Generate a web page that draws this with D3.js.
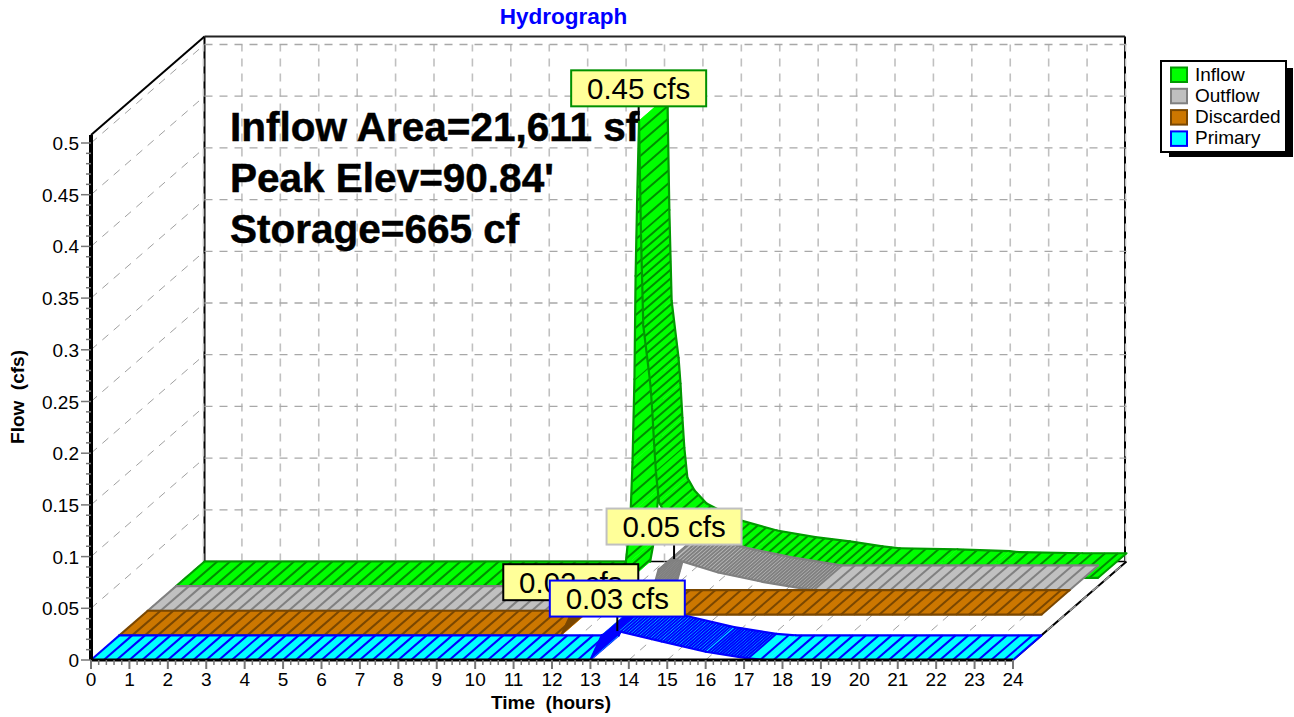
<!DOCTYPE html>
<html><head><meta charset="utf-8">
<script src="https://cdn.jsdelivr.net/npm/d3@7"></script>
<style>html,body{margin:0;padding:0;background:#fff}svg{display:block}text{font-family:"Liberation Sans",Arial,sans-serif;fill:#000}</style>
</head><body><svg id="c" width="1294" height="717"></svg>
<script>
const seriesNames = ["Inflow","Outflow","Discarded","Primary"];
const fills = ["#00ff00","#c0c0c0","#cc7700","#00ffff"];
const strokes = ["#009a00","#808080","#7a4700","#0000ff"];
const hatches = ["#008c00","#808080","#7a4700","#0000ff"];
const labelBorders = ["#009000","#c0c0c0","#000000","#0000ff"];
const depthRow = [3,2,1,0];

const inflowT = [0,11.6,11.7,11.83,11.88,11.93,11.96,12,12.05,12.1,12.16,12.34,12.39,12.44,12.49,12.57,12.75,13.07,13.6,13.93,14.9,15.9,16.8,17.65,18.1,19.6,20.95,21.2,22.85,24];
const inflowV = [0,0,0.02,0.07,0.12,0.2,0.3,0.373,0.45,0.34,0.252,0.197,0.172,0.139,0.11,0.081,0.069,0.056,0.046,0.04,0.03,0.0235,0.0195,0.0147,0.0128,0.0118,0.01,0.009,0.008,0.008];
const outflowT = [0,13,13.3,13.7,14.85,16,17.3,24];
const outflowV = [0,0,0.04,0.05,0.037,0.028,0.02,0.02];
const discardedT = [0,11.5,11.75,24];
const discardedV = [0,0,0.02,0.02];
const primaryT = [0,13,13.3,13.7,14.85,16,17.1,17.6,24];
const primaryV = [0,0,0.024,0.028,0.018,0.008,0.0015,0,0];
const seriesT = [inflowT,outflowT,discardedT,primaryT];
const seriesV = [inflowV,outflowV,discardedV,primaryV];
const denseFrom = [12.1,13,11.5,13];
const denseTo = [18,17.3,11.75,17.1];
const densePitch = [8.5,3.2,3,2.9];

const peakLabels = ["0.45 cfs","0.05 cfs","0.02 cfs","0.03 cfs"];
const peakT = [12.04,13.7,11.75,13.7];
const peakV = [0.45,0.05,0.02,0.028];
const labelOrder = [0,1,2,3];
const statLines = ["Inflow Area=21,611 sf","Peak Elev=90.84'","Storage=665 cf"];
const hourTicks = d3.range(0,25);
const flowTicks = d3.range(0,11).map(d=>d*0.05);
const flowTickText = ["0","0.05","0.1","0.15","0.2","0.25","0.3","0.35","0.4","0.45","0.5"];

const x = d3.scaleLinear().domain([0,24]).range([91,1013]);
const y = d3.scaleLinear().domain([0,0.5]).range([660,143]);
const depthX = d3.scaleLinear().domain([0,4]).range([0,113.5]);
const depthY = d3.scaleLinear().domain([0,4]).range([0,-98.5]);
const P = (t,v,z)=>[x(t)+depthX(z), y(v)+depthY(z)];
const svg = d3.select("#c");
const line = (g,a,b,col,w,dash)=>g.append("line").attr("x1",a[0]).attr("y1",a[1]).attr("x2",b[0]).attr("y2",b[1])
  .attr("stroke",col).attr("stroke-width",w).attr("stroke-dasharray",dash||null);

// grid
const grid = svg.append("g");
const topV = y.invert(135);
const gridVCol="#c0c0c0", gridHCol="#a8a8a8", gridDCol="#a0a0a0";
line(grid,P(0,0,4),P(0,topV,4),"#000",2);
line(grid,[204,P(24,0,4)[1]],[1125,P(24,0,4)[1]],"#000",1.5);
line(grid,[1125,36.5],[1125,562],"#000",2);
hourTicks.forEach(h=>{
  const a=P(h,0,4), b=P(h,0.5,4);
  line(grid,[a[0]-1,a[1]],[b[0]-1,b[1]],gridVCol,1.6,"8,7");
  line(grid,P(h,0,0),[a[0]-1,a[1]],gridDCol,1,"8,7");
});
flowTicks.forEach(v=>{
  const a=P(0,v,0), b=P(0,v,4);
  line(grid,a,b,gridDCol,1,"8,7");
  if(v>0) line(grid,b,P(24,v,4),gridHCol,1.3,"8,7");
});
line(grid,P(24,0,0),P(24,0,4),"#000",2);
line(grid,P(24,0,0),P(24,0,4),"#999",1.5,"8,7");
line(grid,P(0,topV,0),P(0,topV,4),"#000",2);
line(grid,P(0,topV,4),[1125,36.5],"#222",2);

// annotation text
const stats = svg.append("g");
statLines.forEach((s,i)=>stats.append("text").attr("x",230).attr("y",141+i*51).attr("font-size",40.5).attr("font-weight","bold").attr("stroke","#000").attr("stroke-width",0.5).text(s));

// ribbons
seriesNames.forEach((name,s)=>{
  const g = svg.append("g"), z=depthRow[s], T=seriesT[s], V=seriesV[s];
  let walked = 0, nextAt = 12.8;
  for(let i=0;i<T.length-1;i++){
    const f0=P(T[i],V[i],z), f1=P(T[i+1],V[i+1],z), b0=P(T[i],V[i],z+1), b1=P(T[i+1],V[i+1],z+1);
    g.append("path").attr("d",d3.line()([f0,f1,b1,b0])+"Z").attr("fill",fills[s]).attr("stroke",fills[s]).attr("stroke-width",0.5);
    const len=Math.hypot(f1[0]-f0[0],f1[1]-f0[1]);
    const mid=(T[i]+T[i+1])/2;
    const pitch = (mid>=denseFrom[s]&&mid<=denseTo[s]) ? densePitch[s] : 12.8;
    if(nextAt-walked>pitch) nextAt=walked+pitch;
    while(nextAt<=walked+len){
      const u=(nextAt-walked)/len;
      const p=[f0[0]+(f1[0]-f0[0])*u, f0[1]+(f1[1]-f0[1])*u];
      line(g,p,[p[0]+depthX(1),p[1]+depthY(1)],hatches[s],2);
      nextAt+=pitch;
    }
    walked+=len;
    line(g,f0,f1,strokes[s],2.2).attr("stroke-linecap","round");
    line(g,b0,b1,strokes[s],2.2).attr("stroke-linecap","round");
  }
  line(g,P(0,0,z),P(0,0,z+1),strokes[s],2);
  line(g,P(24,V[V.length-1],z),P(24,V[V.length-1],z+1),strokes[s],2);
});

// axes
const axG = svg.append("g");
line(axG,P(0,0,0),P(24,0,0),"#000",3);
line(axG,P(0,0,0),P(0,topV,0),"#000",4);
d3.range(0,121).forEach(i=>{const t=i/5, major=i%5===0;
  line(axG,[x(t),660],[x(t),major?669:665],"#777",major?2:1.5);});
d3.range(0,51).forEach(i=>{const v=i/100, major=i%5===0;
  line(axG,[91,y(v)],[major?81:86,y(v)],"#777",1.5);});
hourTicks.forEach(h=>axG.append("text").attr("x",x(h)).attr("y",686).attr("text-anchor","middle").attr("font-size",19).text(h));
flowTicks.forEach((v,i)=>axG.append("text").attr("x",79).attr("y",y(v)+7).attr("text-anchor","end").attr("font-size",19).text(flowTickText[i]));
svg.append("text").attr("x",551).attr("y",709).attr("text-anchor","middle").attr("font-size",19).attr("font-weight","bold").attr("xml:space","preserve").text("Time  (hours)");
svg.append("text").attr("transform","translate(24,397) rotate(-90)").attr("text-anchor","middle").attr("font-size",19).attr("font-weight","bold").attr("xml:space","preserve").text("Flow  (cfs)");
svg.append("text").attr("x",563.5).attr("y",24).attr("text-anchor","middle").attr("font-size",22.5).attr("font-weight","bold").style("fill","#0000ff").text("Hydrograph");

// peak labels
const labG = svg.append("g");
labelOrder.forEach(s=>{
  const p=P(peakT[s],peakV[s],depthRow[s]);
  const top = p[1]-50;
  line(labG,[p[0],top+30],[p[0],p[1]],"#000",2);
  labG.append("rect").attr("x",p[0]-67.5).attr("y",top-0.5).attr("width",135).attr("height",36).attr("fill","#ffff99").attr("stroke",labelBorders[s]).attr("stroke-width",2);
  labG.append("text").attr("x",p[0]).attr("y",top+28).attr("text-anchor","middle").attr("font-size",29.5).text(peakLabels[s]);
});

// legend
const lg = svg.append("g");
lg.append("rect").attr("x",1169).attr("y",68).attr("width",124).attr("height",89).attr("fill","#000");
lg.append("rect").attr("x",1161).attr("y",61).attr("width",125).attr("height",91).attr("fill","#fff").attr("stroke","#000").attr("stroke-width",2);
seriesNames.forEach((n,i)=>{
  const sy=67.5+i*21.3;
  lg.append("rect").attr("x",1171).attr("y",sy).attr("width",16).attr("height",14.5).attr("fill",fills[i]).attr("stroke",strokes[i]).attr("stroke-width",2);
  lg.append("text").attr("x",1195).attr("y",sy+13).attr("font-size",19).text(n);
});
</script></body></html>
